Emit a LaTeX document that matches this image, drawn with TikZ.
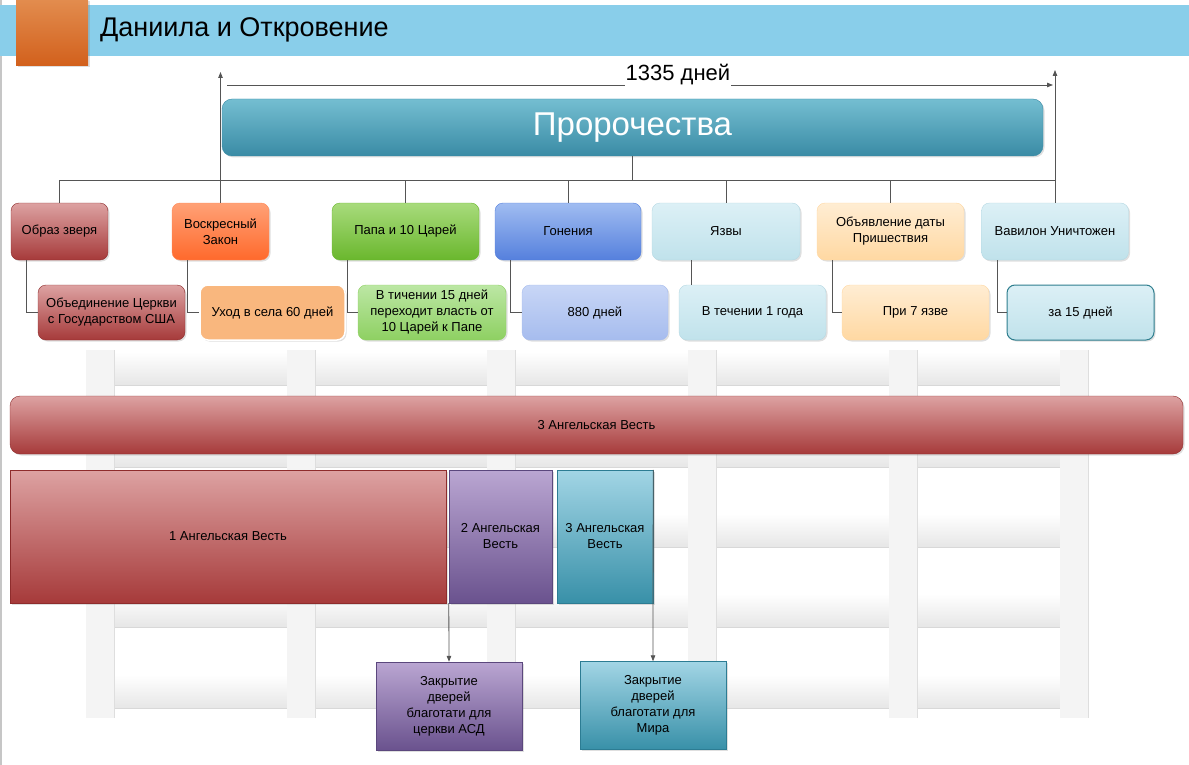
\documentclass[tikz,border=0pt]{standalone}
\usepackage{fontspec}
\setmainfont{Liberation Sans}
\usetikzlibrary{positioning,arrows.meta,shadows}

\definecolor{titleblue}{HTML}{89CEEA}
\definecolor{ortop}{HTML}{E28C4E}
\definecolor{orbot}{HTML}{D2601C}
\definecolor{prtop}{HTML}{74BED1}
\definecolor{prbot}{HTML}{3A8BA5}
\definecolor{redtop}{HTML}{DDA2A2}
\definecolor{redbot}{HTML}{A63A3A}
\definecolor{redline}{HTML}{8E2C2C}
\definecolor{hottop}{HTML}{FFA176}
\definecolor{hotbot}{HTML}{FF692C}
\definecolor{grtop}{HTML}{A8DB7C}
\definecolor{grbot}{HTML}{6AB72D}
\definecolor{lgrtop}{HTML}{BCE7A4}
\definecolor{lgrbot}{HTML}{8ED062}
\definecolor{bltop}{HTML}{A0BCF1}
\definecolor{blbot}{HTML}{5580DD}
\definecolor{lbltop}{HTML}{C8D6F6}
\definecolor{lblbot}{HTML}{A6BCEE}
\definecolor{cytop}{HTML}{DCF0F6}
\definecolor{cybot}{HTML}{C0E2EB}
\definecolor{cyline}{HTML}{B6D9E3}
\definecolor{pchtop}{HTML}{FFEDD3}
\definecolor{pchbot}{HTML}{FFD8A2}
\definecolor{apricot}{HTML}{F9B77E}
\definecolor{tealline}{HTML}{2E7E8E}
\definecolor{putop}{HTML}{BAA6D2}
\definecolor{pubot}{HTML}{6A528E}
\definecolor{puline}{HTML}{5B477D}
\definecolor{tltop}{HTML}{A2D5E5}
\definecolor{tlbot}{HTML}{3890A8}
\definecolor{tlline}{HTML}{2C7C93}
\definecolor{linegray}{HTML}{555555}
\definecolor{postgray}{HTML}{F4F4F4}
\definecolor{posted}{HTML}{DEDEDE}
\definecolor{railgray}{HTML}{E6E6E6}
\definecolor{railed}{HTML}{D8D8D8}

\begin{document}
\begin{tikzpicture}[
		x=1pt, y=-1pt,
		every node/.style={
			align=center,
			inner sep=2pt,
			font=\fontsize{13}{16}\selectfont
		},
		shade box/.style={drop shadow={shadow xshift=1.5pt, shadow yshift=-1.5pt, opacity=0.25}},
		card/.style={shade box, draw, rounded corners=8pt, minimum height=57pt},
		subcard/.style={shade box, draw, rounded corners=8pt, minimum height=55pt},
		panel/.style={shade box, draw, minimum height=133pt},
		closing/.style={shade box, draw, minimum width=146pt, minimum height=88pt},
		red/.style={top color=redtop, bottom color=redbot, draw=redline},
		link/.style={draw=linegray, line width=0.8pt},
		tip/.style={link, -{Triangle[length=6pt,width=4.5pt]}}
		]
		
		\useasboundingbox (0,0) rectangle (1189,765);
		
		% background lattice
		\fill[gray!45] (0,0) rectangle (2,765);
		\foreach \a/\b in {114/287,316/487,516/688,717/889,918/1060}
		\foreach \yb in {385,467,547,627,708} {
			\shade[top color=white, bottom color=railgray] (\a,\yb-33) rectangle (\b,\yb);
			\draw[railed, line width=1pt] (\a,\yb) -- (\b,\yb);
		}
		\foreach \px in {86,287,487,688,889,1060} {
			\fill[postgray] (\px,350) rectangle ++(28,368);
			\draw[posted, line width=1pt] (\px+28,350) -- (\px+28,718);
		}
		
		% title
		\fill[titleblue] (0,5) rectangle (1189,56);
		\path[shade box, top color=ortop, bottom color=orbot] (16,0) rectangle (88,66);
		\node[anchor=west, font=\fontsize{27}{30}\selectfont] (title) at (98,30) {Даниила и Откровение};
		
		% span of days
		\coordinate (spanL) at (227,85);
		\coordinate (spanR) at (1053,85);
		\coordinate (upL) at (221,72);
		\coordinate (upR) at (1054,70);
		\coordinate (bus) at (632,180);
		
		\node[card, top color=prtop, bottom color=prbot, draw=prbot, rounded corners=10pt,
		minimum width=821pt, text=white, font=\fontsize{33}{36}\selectfont] (proph) at (632.5,127.5) {Пророчества};
		
		% first row
		\node[card, red, minimum width=97pt] (obraz) at (59.5,231.5) {Образ зверя};
		\node[card, top color=hottop, bottom color=hotbot, draw=hotbot!80!white, minimum width=97pt] (zakon) at (220.5,231.5) {Воскресный\\Закон};
		\node[card, top color=grtop, bottom color=grbot, draw=grbot, minimum width=147pt] (papa) at (405.5,231.5) {Папа и 10 Царей};
		\node[card, top color=bltop, bottom color=blbot, draw=blbot, minimum width=146pt] (gonenia) at (568,231.5) {Гонения};
		\node[card, top color=cytop, bottom color=cybot, draw=cyline, minimum width=148pt] (yazvy) at (726,231.5) {Язвы};
		\node[card, top color=pchtop, bottom color=pchbot, draw=pchbot, minimum width=147pt] (data) at (890.5,231.5) {Объявление даты\\Пришествия};
		\node[card, top color=cytop, bottom color=cybot, draw=cyline, minimum width=147pt] (vavilon) at (1055,231.5) {Вавилон Уничтожен};
		
		% second row
		\node[subcard, red, minimum width=147pt] (soyuz) at (111.5,312.5) {Объединение Церкви\\с Государством США};
		\node[subcard, fill=apricot, draw=white, line width=1.5pt, minimum width=145pt] (uhod) at (272.5,312.5) {Уход в села 60 дней};
		\node[subcard, top color=lgrtop, bottom color=lgrbot, draw=lgrbot, minimum width=148pt] (vlast) at (432,312.5) {В тичении 15 дней\\переходит власть от\\10 Царей к Папе};
		\node[subcard, top color=lbltop, bottom color=lblbot, draw=lblbot, minimum width=146pt] (dni) at (595,312.5) {880 дней};
		\node[subcard, top color=cytop, bottom color=cybot, draw=cyline, minimum width=147pt] (god) at (752.5,312.5) {В течении 1 года};
		\node[subcard, top color=pchtop, bottom color=pchbot, draw=pchbot, minimum width=147pt] (yazva) at (915.5,312.5) {При 7 язве};
		\node[subcard, top color=cytop, bottom color=cybot, draw=tealline, line width=1pt, minimum width=147pt] (zaden) at (1080.5,312.5) {за 15 дней};
		
		% angels
		\node[card, red, rounded corners=10pt, minimum width=1173pt, minimum height=58pt] (third) at (596.5,425) {3 Ангельская Весть};
		\node[panel, red, minimum width=436pt] (ang1) at (228,536.5) {1 Ангельская Весть};
		\node[panel, top color=putop, bottom color=pubot, draw=puline, minimum width=103pt] (ang2) at (500.5,536.5) {2 Ангельская\\Весть};
		\node[panel, top color=tltop, bottom color=tlbot, draw=tlline, minimum width=96pt] (ang3) at (605,536.5) {3 Ангельская\\Весть};
		
		\node[closing, top color=putop, bottom color=pubot, draw=puline] (asd) at (449,706) {Закрытие\\дверей\\благотати для\\церкви АСД};
		\node[closing, top color=tltop, bottom color=tlbot, draw=tlline] (mir) at (653,705.5) {Закрытие\\дверей\\благотати для\\Мира};
		
		% connectors
		\draw[link] (proph.south) -- (proph.south |- bus);
		\draw[link] (obraz.north) -- (obraz.north |- bus) -- (vavilon.north |- bus) -- (vavilon.north);
		\foreach \n in {papa,gonenia,yazvy,data}
		\draw[link] (\n.north) -- (\n.north |- bus);
		\draw[tip] (zakon.north) -- (zakon.north |- upL);
		\draw[tip] (vavilon.north) -- (vavilon.north |- upR);
		\draw[tip] (spanL) -- (spanR);
		\node[fill=white, inner sep=1pt, minimum height=26pt, font=\fontsize{22}{24}\selectfont] (span) at (678,75) {1335 дней};
		
		\foreach \t/\b in {obraz/soyuz,zakon/uhod,papa/vlast,gonenia/dni,data/yazva,vavilon/zaden}
		\draw[link] ([xshift=16pt]\t.south west) |- (\b.west);
		\draw[link] ([xshift=40pt]yazvy.south west) -- ([xshift=40pt]yazvy.south west |- god.north);
		
		\draw[tip] (ang2.south west) -- (asd.north);
		\draw[tip] (ang3.north east) -- (mir.north);
		
	\end{tikzpicture}
\end{document}
